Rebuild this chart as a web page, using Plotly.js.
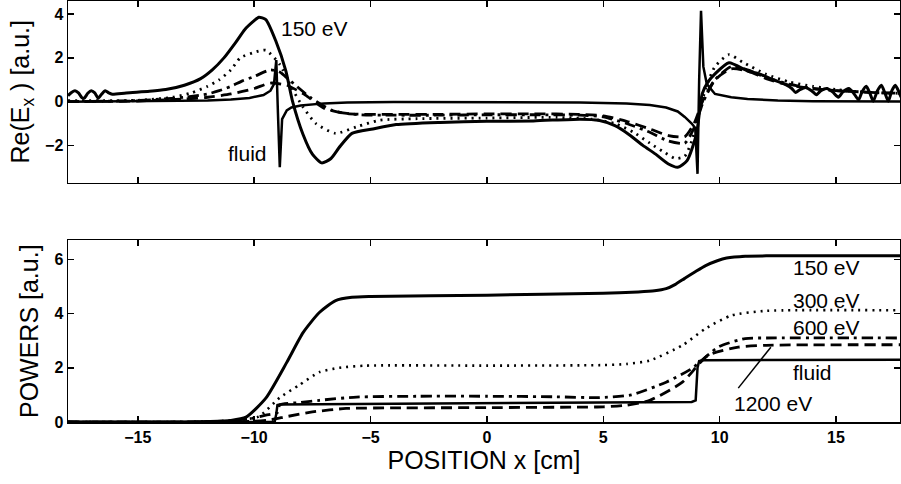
<!DOCTYPE html>
<html>
<head>
<meta charset="utf-8">
<script src="https://cdn.plot.ly/plotly-3.0.1.min.js"></script>
<style>html,body{margin:0;padding:0;background:#fff;}#chart{width:901px;height:484px;}</style>
</head>
<body>
<div id="chart"></div>
<script>
// ---------- TOP PANEL: Re(Ex) ----------
const top150_x = [-18, -17.85, -17.7, -17.55, -17.4, -17.3, -17.15, -17.0, -16.85, -16.7, -16.55, -16.4, -16.25, -16.1, -15.5, -14.5, -13.8, -13, -12.3, -11.8, -11.3, -10.8, -10.4, -10.0, -9.8, -9.5, -9.07, -8.64, -8.36, -7.9, -7.5, -7.1, -6.7, -6.35, -5.8, -4.9, -3.9, -2, 0, 2, 4, 4.8, 5.5, 6.1, 6.7, 7.25, 7.8, 8.2, 8.6, 9.0, 9.25, 9.5, 9.8, 10.4, 11.2, 11.7, 12.3, 12.8, 13.1, 13.26, 13.45, 13.7, 13.95, 14.16, 14.35, 14.6, 14.85, 15.1, 15.3, 15.55, 15.75, 15.97, 16.12, 16.3, 16.45, 16.6, 16.78, 16.95, 17.1, 17.25, 17.4, 17.55, 17.7, 17.8];
const top150_y = [0.27, 0.42, 0.5, 0.4, 0.18, 0.16, 0.38, 0.5, 0.4, 0.16, 0.35, 0.5, 0.4, 0.34, 0.4, 0.47, 0.55, 0.75, 1.05, 1.45, 2.0, 2.7, 3.3, 3.7, 3.86, 3.75, 2.77, 1.41, 0.05, -1.5, -2.4, -2.8, -2.6, -2.1, -1.45, -1.25, -1.05, -0.95, -0.9, -0.88, -0.8, -0.85, -1.1, -1.5, -2.0, -2.4, -2.85, -3.0, -2.7, -1.5, 0.35, 0.9, 1.27, 1.78, 1.4, 1.27, 1.0, 0.8, 0.6, 0.42, 0.55, 0.65, 0.5, 0.32, 0.5, 0.6, 0.45, 0.2, 0.45, 0.6, 0.4, 0.08, 0.45, 0.7, 0.4, 0.02, 0.5, 0.75, 0.4, 0.02, 0.5, 0.75, 0.45, 0.2];

const top300_x = [-18, -15, -13.5, -12.7, -12, -11.5, -11, -10.6, -10.0, -9.5, -8.9, -8.4, -7.9, -7.35, -6.5, -5.6, -4.6, -3, 0, 3, 4.5, 5.5, 6.3, 7.0, 7.6, 8.1, 8.5, 8.8, 9.1, 9.4, 9.8, 10.4, 11, 12, 13, 14, 15, 16, 17, 17.8];
const top300_y = [0.05, 0.06, 0.2, 0.4, 0.7, 1.0, 1.45, 2.0, 2.25, 2.35, 1.7, 0.65, -0.25, -1.0, -1.45, -1.15, -0.85, -0.78, -0.75, -0.72, -0.8, -1.0, -1.4, -1.9, -2.3, -2.6, -2.5, -1.8, -0.6, 0.6, 1.6, 2.15, 1.8, 1.25, 0.9, 0.7, 0.55, 0.45, 0.4, 0.38];

const top600_x = [-18, -15, -13, -12, -11.5, -11, -10.5, -10, -9.3, -8.9, -8.5, -7.6, -6.65, -5.5, -4, -2, 0, 2, 4, 5, 6, 7, 7.8, 8.5, 8.9, 9.3, 9.8, 10.5, 11.2, 12, 13, 14, 15, 16, 17, 17.8];
const top600_y = [0.0, 0.05, 0.2, 0.35, 0.5, 0.7, 0.95, 1.15, 1.45, 1.35, 1.0, 0.2, -0.4, -0.6, -0.62, -0.62, -0.6, -0.6, -0.62, -0.7, -1.0, -1.4, -1.8, -1.9, -1.2, 0.0, 1.0, 1.6, 1.45, 1.1, 0.8, 0.6, 0.5, 0.45, 0.4, 0.38];

const top1200_x = [-18, -15, -13, -12, -11, -10, -9.3, -8.6, -7.8, -7, -6, -4, -2, 0, 2, 4, 5, 6, 7, 7.8, 8.5, 8.9, 9.3, 9.8, 10.5, 11.2, 12, 13, 14, 15, 16, 17, 17.8];
const top1200_y = [0.0, 0.03, 0.12, 0.2, 0.35, 0.6, 0.85, 0.75, 0.3, -0.3, -0.55, -0.58, -0.58, -0.56, -0.56, -0.58, -0.65, -0.9, -1.25, -1.55, -1.6, -1.0, 0.1, 1.0, 1.5, 1.4, 1.05, 0.75, 0.6, 0.5, 0.45, 0.4, 0.38];

const topFluid_x = [-18, -14, -12, -11, -10.2, -9.6, -9.3, -9.15, -9.05, -8.98, -8.9, -8.8, -8.6, -8.4, -8.0, -7.0, -6.0, -4, 0, 4, 6, 7, 7.7, 8.2, 8.5, 8.8, 8.95, 9.05, 9.12, 9.2, 9.3, 9.45, 9.8, 10.5, 11.2, 12.5, 14, 17.8];
const topFluid_y = [0.0, 0.02, 0.05, 0.1, 0.17, 0.3, 0.5, 0.8, 1.9, -0.5, -3.0, -0.8, -0.4, -0.27, -0.18, -0.08, -0.04, -0.02, -0.02, -0.04, -0.08, -0.15, -0.27, -0.45, -0.7, -1.0, -1.2, -3.3, 1.0, 4.15, 1.6, 0.8, 0.35, 0.2, 0.12, 0.05, 0.02, 0.0];

// ---------- BOTTOM PANEL: POWERS ----------
const bot150_x = [-18, -13, -12, -11, -10.35, -9.5, -8.6, -7.9, -7.2, -6.5, -5.8, -5, 0, 5, 6.5, 7.2, 7.7, 8.1, 8.5, 9.0, 9.4, 9.9, 10.3, 11.1, 12, 17.8];
const bot150_y = [0.0, 0.0, 0.02, 0.06, 0.18, 0.88, 2.2, 3.3, 4.04, 4.48, 4.6, 4.63, 4.68, 4.75, 4.8, 4.84, 4.92, 5.08, 5.3, 5.57, 5.77, 5.95, 6.05, 6.12, 6.13, 6.13];

const bot300_x = [-18, -13, -12, -11, -10.4, -9.8, -8.9, -8.07, -7.2, -6.35, -5.2, 0, 5, 6, 7.0, 8.4, 9.4, 10.5, 12, 17.8];
const bot300_y = [0.0, 0.0, 0.02, 0.05, 0.1, 0.2, 0.9, 1.36, 1.84, 2.0, 2.08, 2.08, 2.1, 2.14, 2.27, 2.83, 3.45, 3.93, 4.1, 4.12];

const bot600_x = [-18, -12, -11, -10, -9.5, -9, -8.9, -8, -7.2, -5.6, -3, 0, 3, 4.8, 6.2, 7.7, 8.8, 9.95, 11.1, 12, 17.8];
const bot600_y = [0.0, 0.0, 0.05, 0.15, 0.25, 0.35, 0.63, 0.72, 0.8, 0.92, 0.95, 0.95, 0.93, 0.9, 1.0, 1.47, 1.97, 2.77, 3.08, 3.1, 3.1];

const bot1200_x = [-18, -11, -10, -9.3, -8.6, -7.5, -6.05, -4, 0, 4, 5, 6, 7.0, 8.4, 9.5, 10.8, 12, 17.8];
const bot1200_y = [0.0, 0.0, 0.03, 0.08, 0.2, 0.37, 0.5, 0.52, 0.53, 0.55, 0.56, 0.62, 0.8, 1.47, 2.46, 2.76, 2.83, 2.85];

const botFluid_x = [-18, -9.12, -9.05, -9.0, -8.9, -5, 0, 5, 8.5, 8.8, 8.97, 9.05, 9.12, 9.3, 17.8];
const botFluid_y = [0.0, 0.0, 0.3, 0.63, 0.65, 0.67, 0.68, 0.7, 0.72, 0.74, 0.8, 2.0, 2.25, 2.28, 2.3];

const xTicks = [-15, -10, -5, 0, 5, 10, 15];
const topYTicks = [-2, 0, 2, 4];
const botYTicks = [0, 2, 4, 6];

const labelsTop = [
  {text: '150 eV', x: -7.4, y: 3.36},
  {text: 'fluid', x: -10.3, y: -2.36}
];
const labelsBot = [
  {text: '150 eV', x: 14.6, y: 5.7},
  {text: '300 eV', x: 14.6, y: 4.49},
  {text: '600 eV', x: 14.6, y: 3.49},
  {text: 'fluid', x: 14.0, y: 1.84},
  {text: '1200 eV', x: 12.3, y: 0.7}
];
const pointer1200 = {x0: 10.8, y0: 1.25, x1: 12.2, y1: 2.76};

function tr(x, y, axis, w, dash, smooth) {
  return {
    x: x, y: y, xaxis: 'x' + (axis === 1 ? '' : axis), yaxis: 'y' + (axis === 1 ? '' : axis),
    type: 'scatter', mode: 'lines',
    line: {color: '#000', width: w, dash: dash, shape: smooth ? 'spline' : 'linear', smoothing: 0.6},
    hoverinfo: 'skip', showlegend: false
  };
}
const DOT = '2px,5px';
const DASH = '11px,6px';
const DASHDOT = '11px,5px,3px,5px';

const data = [
  tr(top150_x, top150_y, 1, 3, 'solid', true),
  tr(top300_x, top300_y, 1, 2.8, DOT, true),
  tr(top600_x, top600_y, 1, 2.8, DASHDOT, true),
  tr(top1200_x, top1200_y, 1, 2.8, DASH, true),
  tr(topFluid_x, topFluid_y, 1, 2.5, 'solid', false),
  tr(bot150_x, bot150_y, 2, 3, 'solid', true),
  tr(bot300_x, bot300_y, 2, 2.6, DOT, true),
  tr(bot600_x, bot600_y, 2, 2.8, DASHDOT, true),
  tr(bot1200_x, bot1200_y, 2, 2.8, DASH, true),
  tr(botFluid_x, botFluid_y, 2, 2.5, 'solid', false)
];

const FAM = 'Liberation Sans, Arial, sans-serif';
const tickFont = {family: FAM, size: 16, color: '#000', weight: 'bold'};
const titleFont = {family: FAM, size: 25, color: '#000'};
const labelFont = {family: FAM, size: 21, color: '#000'};
const axBase = {
  showline: true, mirror: 'ticks', linecolor: '#000', linewidth: 1.5,
  ticks: 'inside', ticklen: 6, tickwidth: 1.5, tickcolor: '#000',
  showgrid: false, zeroline: false, tickfont: tickFont
};

const annotations = [];
labelsTop.forEach(l => annotations.push({text: l.text, x: l.x, y: l.y, xref: 'x', yref: 'y', showarrow: false, xanchor: 'center', yanchor: 'middle', font: labelFont}));
labelsBot.forEach(l => annotations.push({text: l.text, x: l.x, y: l.y, xref: 'x2', yref: 'y2', showarrow: false, xanchor: 'center', yanchor: 'middle', font: labelFont}));

const layout = {
  width: 901, height: 484,
  margin: {l: 68, r: 1, t: 1, b: 62},
  paper_bgcolor: '#fff', plot_bgcolor: '#fff',
  showlegend: false,
  xaxis: Object.assign({}, axBase, {domain: [0, 1], range: [-18, 17.75], tickvals: xTicks, showticklabels: false, anchor: 'y'}),
  yaxis: Object.assign({}, axBase, {domain: [0.5687, 1], range: [-3.7, 4.6], tickvals: topYTicks, anchor: 'x',
    title: {text: 'Re(E<sub>x</sub> ) [a.u.]', font: titleFont, standoff: 8}}),
  xaxis2: Object.assign({}, axBase, {domain: [0, 1], range: [-18, 17.75], tickvals: xTicks, anchor: 'y2',
    title: {text: 'POSITION x [cm]', font: titleFont, standoff: 2}}),
  yaxis2: Object.assign({}, axBase, {domain: [0, 0.4313], range: [0, 6.7], tickvals: botYTicks, anchor: 'x2',
    title: {text: 'POWERS [a.u.]', font: titleFont, standoff: 8}}),
  annotations: annotations,
  shapes: [{type: 'line', xref: 'x2', yref: 'y2', x0: pointer1200.x0, y0: pointer1200.y0, x1: pointer1200.x1, y1: pointer1200.y1, line: {color: '#000', width: 1.5}}]
};

Plotly.newPlot('chart', data, layout, {staticPlot: true, displayModeBar: false});
</script>
</body>
</html>
